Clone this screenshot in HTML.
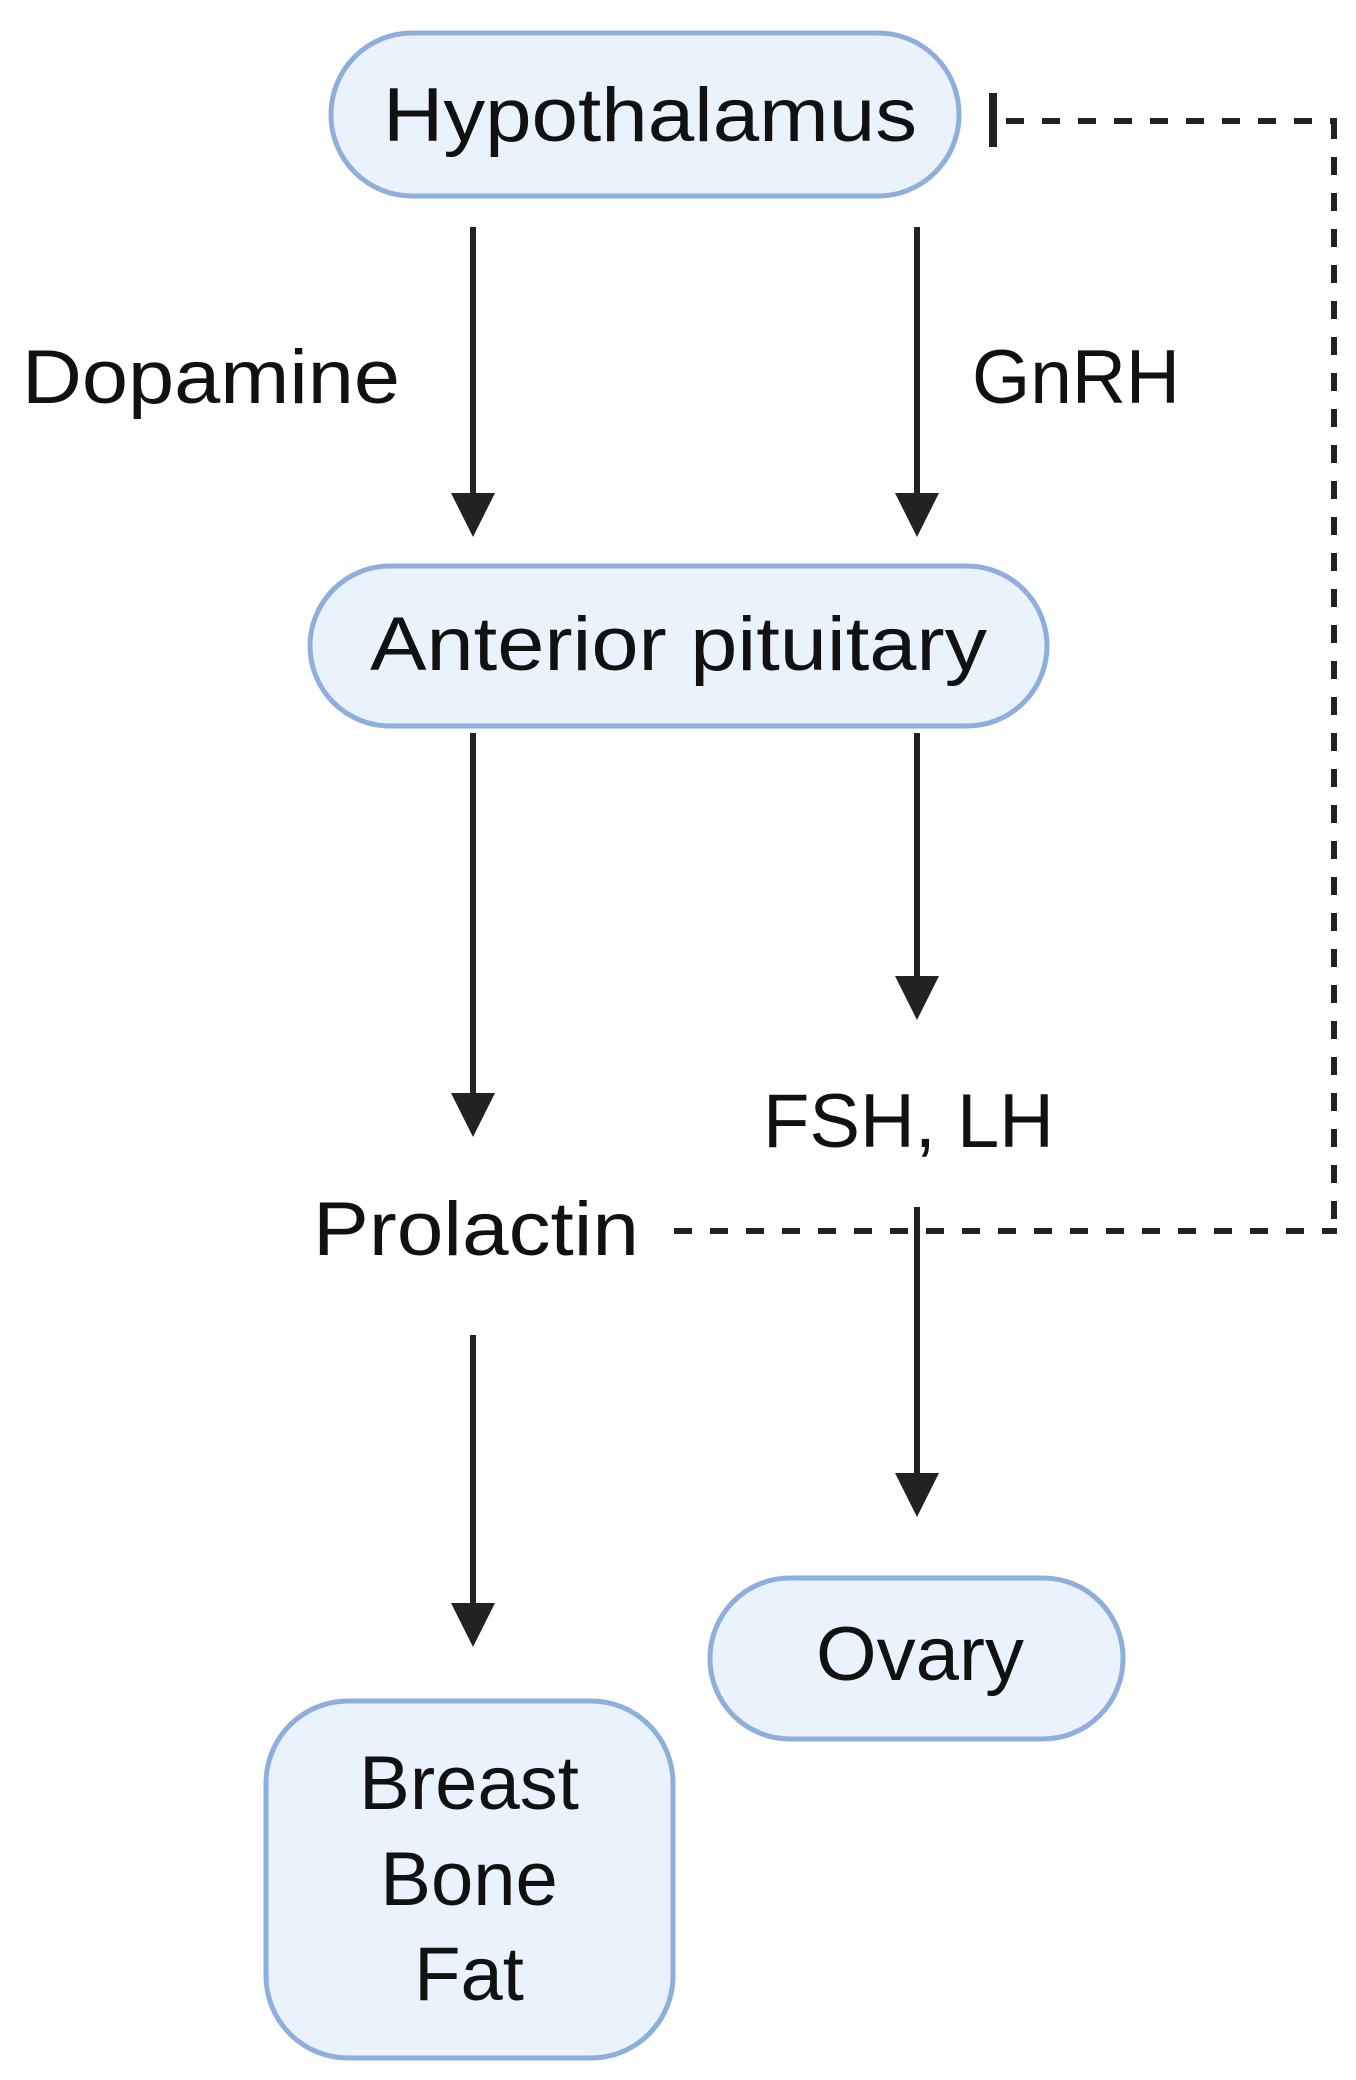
<!DOCTYPE html>
<html><head><meta charset="utf-8"><style>html,body{margin:0;padding:0;background:#fff}svg{display:block}</style></head>
<body>
<svg width="1356" height="2080" viewBox="0 0 1356 2080" xmlns="http://www.w3.org/2000/svg">
<defs>
<marker id="ah" markerWidth="10" markerHeight="10" refX="5" refY="9" orient="auto" markerUnits="userSpaceOnUse"></marker>
</defs>
<g fill="#eaf2fb" stroke="#8eaedc" stroke-width="5">
<rect x="331" y="33" width="628" height="163" rx="81"/>
<rect x="310" y="566" width="737" height="160" rx="80"/>
<rect x="710" y="1578" width="413" height="161" rx="80"/>
<rect x="266" y="1701" width="407" height="357" rx="82"/>
</g>
<g stroke="#222" stroke-width="6">
<line x1="473" y1="227" x2="473" y2="500"/>
<line x1="917" y1="227" x2="917" y2="500"/>
<line x1="473" y1="733" x2="473" y2="1105"/>
<line x1="917" y1="733" x2="917" y2="985"/>
<line x1="917" y1="1207" x2="917" y2="1480"/>
<line x1="473" y1="1335" x2="473" y2="1610"/>
</g>
<g fill="#222">
<polygon points="451,493 495,493 473,537"/>
<polygon points="895,493 939,493 917,537"/>
<polygon points="451,1093 495,1093 473,1137"/>
<polygon points="895,976 939,976 917,1020"/>
<polygon points="895,1473 939,1473 917,1517"/>
<polygon points="451,1603 495,1603 473,1647"/>
</g>
<rect x="989" y="93" width="8" height="54" fill="#222"/>
<g stroke="#222" stroke-width="6" fill="none" stroke-dasharray="18 18">
<line x1="1006" y1="121" x2="1337" y2="121"/>
<line x1="1334" y1="121" x2="1334" y2="1231"/>
<line x1="674" y1="1231" x2="1337" y2="1231"/>
</g>
<g font-family="Liberation Sans, sans-serif" font-size="76" fill="#111">
<text x="383" y="141" textLength="534" lengthAdjust="spacingAndGlyphs">Hypothalamus</text>
<text x="22" y="403" textLength="378" lengthAdjust="spacingAndGlyphs">Dopamine</text>
<text x="972" y="403" textLength="208" lengthAdjust="spacingAndGlyphs">GnRH</text>
<text x="370" y="670" textLength="617" lengthAdjust="spacingAndGlyphs">Anterior pituitary</text>
<text x="763" y="1147" textLength="291" lengthAdjust="spacingAndGlyphs">FSH, LH</text>
<text x="313" y="1255" textLength="326" lengthAdjust="spacingAndGlyphs">Prolactin</text>
<text x="816" y="1680" textLength="208" lengthAdjust="spacingAndGlyphs">Ovary</text>
<text x="469" y="1809" text-anchor="middle">Breast</text>
<text x="469" y="1905" text-anchor="middle">Bone</text>
<text x="469" y="2000" text-anchor="middle">Fat</text>
</g>
</svg>
</body></html>
